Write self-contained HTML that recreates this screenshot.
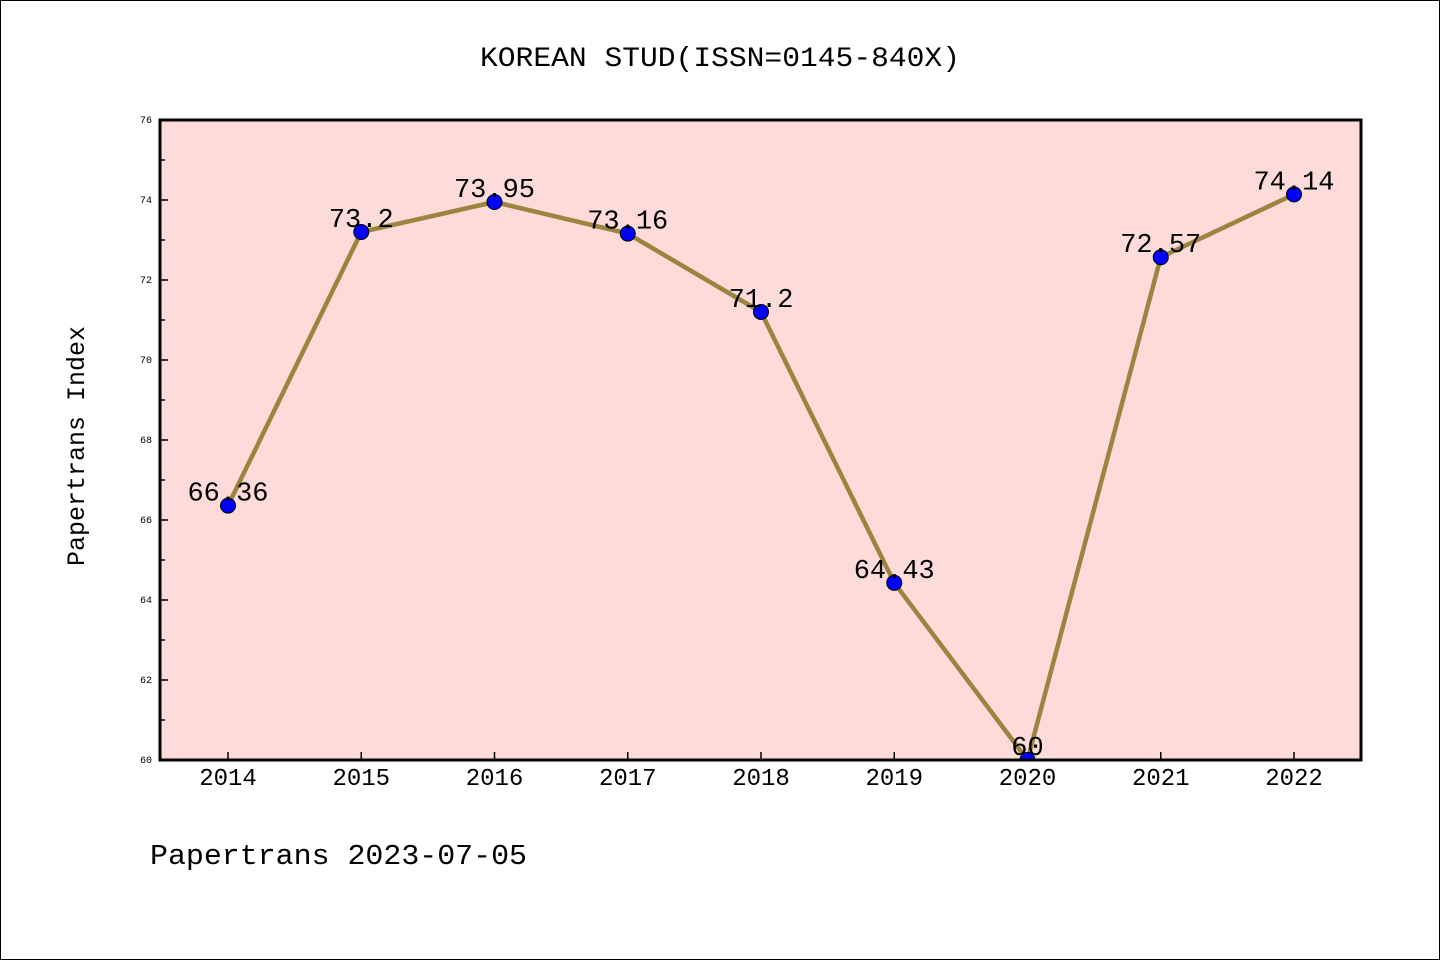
<!DOCTYPE html>
<html><head><meta charset="utf-8"><style>
body{margin:0;background:#fff}
svg text{font-family:"WenQuanYi Zen Hei Mono","WenQuanYi Zen Hei","Liberation Mono",monospace}
</style></head><body>
<svg width="1440" height="960">
<rect x="0.5" y="0.5" width="1439" height="959" fill="#fff" stroke="#000"/>
<text x="720" y="66" font-size="28" text-anchor="middle" textLength="480" lengthAdjust="spacingAndGlyphs">KOREAN STUD(ISSN=0145-840X)</text>
<defs><clipPath id="pc"><rect x="160" y="120" width="1201" height="640"/></clipPath></defs>
<rect x="160" y="120" width="1201" height="640" fill="#fddbd8"/>
<g id="axes"></g>
<g id="series" clip-path="url(#pc)"></g>
<rect x="160" y="120" width="1201" height="640" fill="none" stroke="#000" stroke-width="3"/>
<text transform="translate(84,446) rotate(-90)" font-size="25" text-anchor="middle" textLength="240" lengthAdjust="spacingAndGlyphs">Papertrans Index</text>
<text x="150" y="864" font-size="29" textLength="377" lengthAdjust="spacingAndGlyphs">Papertrans 2023-07-05</text>
</svg>
<script>
const years=["2014","2015","2016","2017","2018","2019","2020","2021","2022"];
const values=[66.36,73.2,73.95,73.16,71.2,64.43,60,72.57,74.14];
const labels=["66.36","73.2","73.95","73.16","71.2","64.43","60","72.57","74.14"];
const yTicks=[60,62,64,66,68,70,72,74,76];
const NS="http://www.w3.org/2000/svg";
const x=i=>228+i*(1294-228)/(years.length-1);
const y=v=>760-(v-60)*(640/16);
function mk(t,a,p){const e=document.createElementNS(NS,t);for(const k in a)e.setAttribute(k,a[k]);p.appendChild(e);return e;}
const ax=document.getElementById('axes'),se=document.getElementById('series');
yTicks.forEach((v,i)=>{
 const t=mk('text',{x:152,y:y(v)+3,'font-size':10,'text-anchor':'end'},ax);t.textContent=v;
 
 
 mk('line',{x1:160,x2:168,y1:y(v),y2:y(v),stroke:'#000','stroke-width':1.5},ax);
 if(i<yTicks.length-1){mk('line',{x1:160,x2:165,y1:y(v+1),y2:y(v+1),stroke:'#000','stroke-width':1.5},ax);}
});
years.forEach((yr,i)=>{
 const t=mk('text',{x:x(i),y:785,'font-size':24,'text-anchor':'middle'},ax);t.textContent=yr;
 
 
 mk('line',{x1:x(i),x2:x(i),y1:760,y2:752,stroke:'#000','stroke-width':1.5},ax);
});
const pl=mk('polyline',{points:values.map((v,i)=>x(i)+','+y(v)).join(' '),fill:'none',stroke:'#9a8540','stroke-width':4.5,'stroke-linejoin':'round'},se);


values.forEach((v,i)=>{
 const c=mk('circle',{cx:x(i),cy:y(v),r:7.5,fill:'#0000ff',stroke:'#000','stroke-width':1},se);
 
 
 const t=mk('text',{x:x(i),y:y(v)-5,'font-size':27,'text-anchor':'middle'},se);t.textContent=labels[i];
 
 
});
</script>
</body></html>
